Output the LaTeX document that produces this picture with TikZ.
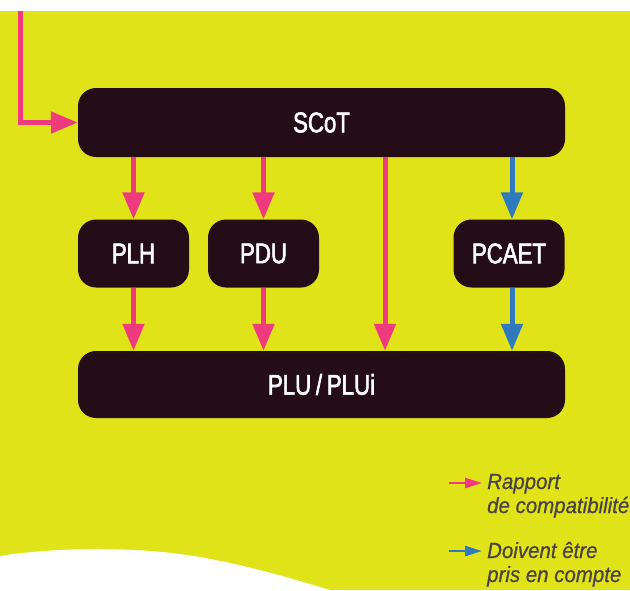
\documentclass[tikz,border=0pt]{standalone}
\usepackage{fontspec}
\setmainfont{Liberation Sans}
\newfontfamily\boxfont[FakeStretch=0.78,FakeBold=2]{Liberation Sans}
\newfontfamily\legfont[FakeStretch=0.93,FakeBold=0.6]{Liberation Sans}
\usetikzlibrary{arrows.meta}
\definecolor{bgyellow}{HTML}{E1E319}
\definecolor{boxdark}{HTML}{250D18}
\definecolor{relpink}{HTML}{EF3B7D}
\definecolor{relblue}{HTML}{2F79BD}
\definecolor{legtext}{HTML}{4A4142}
\tikzset{
  docbox/.style={fill=boxdark, rounded corners=18pt, inner sep=0pt, text=white,
    font=\boxfont\fontsize{28.5}{30}\selectfont},
  bigarrow/.style={line width=5pt, -{Triangle[width=21pt,length=27pt]}},
  smallarrow/.style={line width=2.6pt, -{Triangle[width=10pt,length=17pt]}},
  legline/.style={anchor=base west, inner sep=0pt, text=legtext,
    font=\legfont\itshape\fontsize{22}{24}\selectfont},
}
\begin{document}
\begin{tikzpicture}[x=1pt,y=-1pt]
\useasboundingbox (0,0) rectangle (630,590);
\fill[white] (0,0) rectangle (630,590);
\fill[bgyellow] (0,11) rectangle (630,590);
\fill[white] (0,556) .. controls (50,548) and (130,545) .. (200,557)
  .. controls (250,566) and (290,578) .. (330,590) -- (0,590) -- cycle;

\node[docbox, minimum width=487pt, minimum height=69pt] (scot) at (321.5,122.5) {SCoT};
\node[docbox, minimum width=111pt, minimum height=68pt] (plh) at (133.5,253.5) {PLH};
\node[docbox, minimum width=111pt, minimum height=68pt] (pdu) at (263.5,253.5) {PDU};
\node[docbox, minimum width=111pt, minimum height=68pt] (pcaet) at (509,253.5) {PCAET};
\node[docbox, minimum width=487pt, minimum height=67pt] (plu) at (321.5,384.5) {PLU\,/\,PLUi};

\coordinate (src) at (20,11);
\coordinate (direct) at (385,0);
\coordinate (blueline) at (512,0);

\draw[bigarrow, relpink] (src) |- (scot.west);
\draw[bigarrow, relpink] (scot.south -| plh) -- (plh.north);
\draw[bigarrow, relpink] (scot.south -| pdu) -- (pdu.north);
\draw[bigarrow, relpink] (scot.south -| direct) -- (plu.north -| direct);
\draw[bigarrow, relblue] (scot.south -| blueline) -- (pcaet.north -| blueline);
\draw[bigarrow, relpink] (plh.south) -- (plu.north -| plh);
\draw[bigarrow, relpink] (pdu.south) -- (plu.north -| pdu);
\draw[bigarrow, relblue] (pcaet.south -| blueline) -- (plu.north -| blueline);

\coordinate (lpA) at (449,483);
\coordinate (lpB) at (482,483);
\coordinate (lbA) at (449,551);
\coordinate (lbB) at (482,551);
\draw[smallarrow, relpink] (lpA) -- (lpB);
\draw[smallarrow, relblue] (lbA) -- (lbB);

\node[legline] (leg1) at (487,489) {Rapport};
\node[legline] (leg2) at (487,513) {de compatibilité};
\node[legline] (leg3) at (487,558) {Doivent être};
\node[legline] (leg4) at (487,582) {pris en compte};
\end{tikzpicture}
\end{document}
